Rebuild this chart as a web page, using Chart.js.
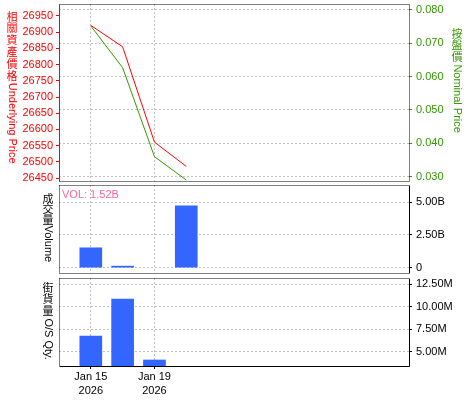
<!DOCTYPE html>
<html>
<head>
<meta charset="utf-8">
<script src="https://cdn.jsdelivr.net/npm/chart.js@4.4.1/dist/chart.umd.min.js"></script>
<style>
  body { margin: 0; background: #fff; }
  #wrap { position: relative; width: 475px; height: 400px; }
  #wrap canvas { position: absolute; left: 0; }
</style>
</head>
<body>
<div id="wrap">
  <canvas id="priceChart" width="475" height="183" style="top:0"></canvas>
  <canvas id="volChart" width="475" height="93" style="top:183px"></canvas>
  <canvas id="osChart" width="475" height="124" style="top:276px"></canvas>
</div>
<script>
// trading days (evenly spaced on the axis)
const days = ['Jan 15 2026', 'Jan 16 2026', 'Jan 19 2026', 'Jan 20 2026'];
const labelDays = [0, 2];

const underlying = [26921, 26855, 26561, 26486];
const nominal = [0.0752, 0.0627, 0.0360, 0.0290];
const volume = [1.52e9, 0.12e9, null, 4.72e9];
const osQty = [6.75e6, 10.86e6, 4.08e6, null];

const underlyingTicks = [26450, 26500, 26550, 26600, 26650, 26700, 26750, 26800, 26850, 26900, 26950];
const nominalTicks = [0.030, 0.040, 0.050, 0.060, 0.070, 0.080];
const volumeTicks = [0, 2.5e9, 5e9];
const osTicks = [5e6, 7.5e6, 10e6, 12.5e6];

const RED = '#ff0000';
const GREEN = '#339900';
const BAR = '#3366ff';
const GRID = '#c0c0c0';

Chart.defaults.font.family = '"Liberation Sans", Arial, sans-serif';
Chart.defaults.font.size = 11;
Chart.defaults.color = '#000';

const toPoints = arr => arr.map((v, i) => ({ x: i, y: v }));
const setTicks = list => scale => { scale.ticks = list.map(v => ({ value: v })); };
const fitWidth = w => scale => {
    scale.width = w;
    scale.paddingTop = 0;
    scale.paddingBottom = 0;
};
const fitHeight = h => scale => {
    scale.height = h;
    scale.paddingLeft = 0;
    scale.paddingRight = 0;
};

function fmtB(v) { return v === 0 ? '0' : (v / 1e9).toFixed(2) + 'B'; }
function fmtM(v) { return (v / 1e6).toFixed(2) + 'M'; }

// chart area edges: dotted or solid per side
const framePlugin = {
    id: 'frame',
    afterDatasetsDraw(chart, args, opts) {
        const { ctx, chartArea: a } = chart;
        const l = Math.floor(a.left) + 0.5, r = Math.floor(a.right) + 0.5;
        const t = Math.floor(a.top) + 0.5, b = Math.floor(a.bottom) + 0.5;
        const sides = { top: [l, t, r, t], bottom: [l, b, r, b], left: [l, t, l, b], right: [r, t, r, b] };
        ctx.save();
        ctx.lineWidth = 1;
        for (const k of Object.keys(sides)) {
            const s = opts[k];
            if (!s) continue;
            ctx.strokeStyle = s.color;
            ctx.setLineDash(s.dash || []);
            ctx.beginPath();
            ctx.moveTo(sides[k][0], sides[k][1]);
            ctx.lineTo(sides[k][2], sides[k][3]);
            ctx.stroke();
        }
        ctx.restore();
    }
};

// vertical titles: CJK upright and stacked, latin turned clockwise
const sideTitlePlugin = {
    id: 'sideTitles',
    afterDraw(chart, args, opts) {
        const ctx = chart.ctx;
        (opts.items || []).forEach(t => {
            ctx.save();
            ctx.fillStyle = t.color;
            ctx.textAlign = 'center';
            ctx.textBaseline = 'top';
            ctx.font = '11px "Noto Sans CJK TC", sans-serif';
            let y = t.y;
            for (const ch of t.cjk) {
                ctx.fillText(ch, t.x, y);
                y += t.step;
            }
            ctx.translate(t.x, y + 1);
            ctx.rotate(Math.PI / 2);
            ctx.textAlign = 'left';
            ctx.textBaseline = 'middle';
            ctx.font = '11px "Liberation Sans", Arial, sans-serif';
            ctx.fillText(t.latin, 0, 0);
            ctx.restore();
        });
        (opts.notes || []).forEach(n => {
            ctx.save();
            ctx.fillStyle = n.color;
            ctx.font = '11px "Liberation Sans", Arial, sans-serif';
            ctx.textBaseline = 'middle';
            ctx.fillText(n.text, n.x, n.y);
            ctx.restore();
        });
    }
};

const dotted = { color: '#000', dash: [1, 1] };
const solid = { color: '#000' };

function xAxis(showLabels) {
    return {
        type: 'linear',
        min: -1,
        max: 10,
        offset: false,
        afterBuildTicks: setTicks(labelDays),
        afterFit: fitHeight(showLabels ? 34 : 0),
        border: { display: false, dash: [2, 2] },
        grid: {
            color: GRID,
            offset: false,
            drawTicks: showLabels,
            tickLength: 3,
            tickColor: '#000',
            tickBorderDash: []
        },
        ticks: {
            display: showLabels,
            padding: 1,
            maxRotation: 0,
            font: { size: 11, lineHeight: 1.3 },
            callback: v => {
                const [m, d, y] = days[v].split(' ');
                return [m + ' ' + d, y];
            }
        }
    };
}

function rightAxis(min, max, list, fmt, color, showGrid) {
    return {
        type: 'linear',
        position: 'right',
        min, max,
        afterBuildTicks: setTicks(list),
        afterFit: fitWidth(66),
        border: { display: false, dash: [2, 2] },
        grid: {
            color: GRID,
            drawOnChartArea: showGrid,
            tickLength: 3,
            tickColor: color,
            tickBorderDash: []
        },
        ticks: { color, padding: 4, callback: fmt }
    };
}

new Chart(document.getElementById('priceChart'), {
    type: 'line',
    data: {
        datasets: [
            { label: 'Underlying Price', data: toPoints(underlying), yAxisID: 'yPrice',
              borderColor: RED, borderWidth: 1, pointRadius: 0, order: 0 },
            { label: 'Nominal Price', data: toPoints(nominal), yAxisID: 'yNom',
              borderColor: GREEN, borderWidth: 1, pointRadius: 0, order: 1 }
        ]
    },
    options: {
        responsive: false,
        animation: false,
        layout: { padding: { top: 4, bottom: 2, left: 0, right: 0 } },
        plugins: {
            legend: { display: false },
            tooltip: { enabled: false },
            frame: { top: dotted, bottom: dotted, left: { color: RED }, right: dotted },
            sideTitles: {
                items: [
                    { cjk: '相關資產價格', latin: 'Underlying Price', x: 12, y: 11, step: 11.8, color: RED },
                    { cjk: '按盤價', latin: 'Nominal Price', x: 457, y: 28, step: 11.8, color: GREEN }
                ]
            }
        },
        scales: {
            x: xAxis(false),
            yPrice: {
                type: 'linear',
                position: 'left',
                min: 26441,
                max: 26987,
                afterBuildTicks: setTicks(underlyingTicks),
                afterFit: fitWidth(59),
                border: { display: false },
                grid: { drawOnChartArea: false, tickLength: 3, tickColor: RED },
                ticks: { color: RED, padding: 3, callback: v => String(v) }
            },
            yNom: rightAxis(0.0287, 0.0818, nominalTicks, v => v.toFixed(3), GREEN, true)
        }
    },
    plugins: [framePlugin, sideTitlePlugin]
});

new Chart(document.getElementById('volChart'), {
    type: 'bar',
    data: {
        datasets: [{ label: 'Volume', data: toPoints(volume), backgroundColor: BAR, barThickness: 22 }]
    },
    options: {
        responsive: false,
        animation: false,
        layout: { padding: { top: 2, bottom: 3, left: 59, right: 0 } },
        plugins: {
            legend: { display: false },
            tooltip: { enabled: false },
            frame: { top: dotted, bottom: dotted, left: dotted, right: solid },
            sideTitles: {
                items: [{ cjk: '成交量', latin: 'Volume', x: 48, y: 10, step: 10.5, color: '#000' }],
                notes: [{ text: 'VOL: ' + fmtB(volume[0]), x: 62, y: 12, color: '#ff6699' }]
            }
        },
        scales: {
            x: xAxis(false),
            y: rightAxis(-0.405e9, 6.32e9, volumeTicks, fmtB, '#000', true)
        }
    },
    plugins: [framePlugin, sideTitlePlugin]
});

new Chart(document.getElementById('osChart'), {
    type: 'bar',
    data: {
        datasets: [{ label: 'O/S Qty.', data: toPoints(osQty), backgroundColor: BAR, barThickness: 22 }]
    },
    options: {
        responsive: false,
        animation: false,
        layout: { padding: { top: 2, bottom: 0, left: 59, right: 0 } },
        plugins: {
            legend: { display: false },
            tooltip: { enabled: false },
            frame: { top: dotted, bottom: solid, left: dotted, right: solid },
            sideTitles: {
                items: [{ cjk: '街貨量', latin: 'O/S Qty.', x: 48, y: 6, step: 11.8, color: '#000' }]
            }
        },
        scales: {
            x: xAxis(true),
            y: rightAxis(3.41e6, 13.2e6, osTicks, fmtM, '#000', true)
        }
    },
    plugins: [framePlugin, sideTitlePlugin]
});
</script>
</body>
</html>
